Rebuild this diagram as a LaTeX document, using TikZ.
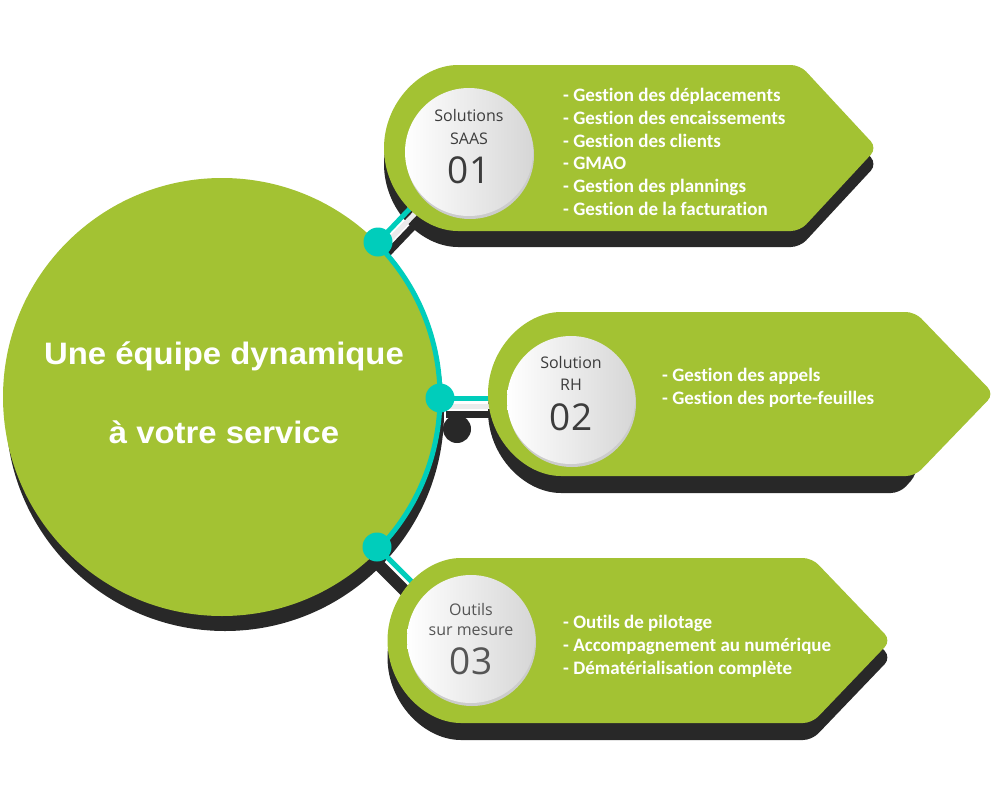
\documentclass[tikz,border=0pt]{standalone}
\usepackage{fontspec}
\usetikzlibrary{calc}
\setmainfont{Liberation Sans}
\newfontfamily\titlefont[FakeStretch=1.06]{Liberation Sans}
\newfontfamily\listfont[Ligatures=NoCommon]{Carlito}
\newfontfamily\labelfont{Open Sans}
\definecolor{leaf}{HTML}{A3C233}
\definecolor{deep}{HTML}{282828}
\definecolor{aqua}{HTML}{00CDBB}
\definecolor{labelgray}{HTML}{3C3C3C}
\definecolor{labelgrayb}{HTML}{555555}
\pgfdeclarelayer{paper}
\pgfdeclarelayer{back}
\pgfdeclarelayer{mid}
\pgfsetlayers{paper,back,mid,main}
\tikzset{
  greenbox/.style={fill=leaf, rounded corners=9pt},
  shadowbox/.style={fill=deep, rounded corners=9pt},
  aquadot/.style={circle, fill=aqua, minimum size=29pt, inner sep=0pt},
  aqualine/.style={draw=aqua, line width=5pt},
  deepline/.style={draw=deep, line width=7pt},
  lightline/.style={draw=black!8, line width=5pt},
  titletext/.style={text=white, font=\titlefont\bfseries\fontsize{31}{31}\selectfont, inner sep=0pt},
  listtext/.style={text=white, font=\listfont\bfseries\fontsize{19}{19}\selectfont, inner sep=0pt, anchor=base west},
  labeltext/.style={text=labelgray, font=\labelfont\fontsize{16}{16}\selectfont, inner sep=0pt, anchor=base},
  numtext/.style={text=labelgray, font=\labelfont\fontsize{37}{37}\selectfont, inner sep=0pt, anchor=base},
  disc/.style={circle, inner sep=0pt, minimum size=128pt, left color=white, right color=black!16},
  discrim/.style={circle, inner sep=0pt, minimum size=128pt, fill=black!20}
}
\begin{document}
\begin{tikzpicture}[x=1pt,y=-1pt]
\useasboundingbox (0,0) rectangle (1000,800);
\begin{pgfonlayer}{paper}
\fill[white] (0,0) rectangle (1000,800);
\end{pgfonlayer}

% ---------- box greens ----------
\fill[greenbox] (600,65) -- (800,65) -- (877,148) -- (800,231) -- (467,231) arc[start angle=270,end angle=90,radius=83pt] -- cycle;
\fill[greenbox] (700,312) -- (915,312) -- (994,394) -- (915,476) -- (570,476) arc[start angle=270,end angle=90,radius=82pt] -- cycle;
\fill[greenbox] (600,558) -- (812,558) -- (891,640.5) -- (812,723) -- (470,723) arc[start angle=270,end angle=90,radius=82.5pt] -- cycle;

% ---------- teal arc and dots ----------
\draw[aqua, line width=5pt] ($(222,397)+(45:218pt)$) arc[start angle=45,end angle=-45,radius=218pt];
\node[aquadot] (d1) at (378,242) {};
\node[aquadot] (d2) at (440,398) {};
\node[aquadot] (d3) at (377,547) {};
\coordinate (b1) at (420,198);
\coordinate (b2) at (500,398);
\coordinate (b3) at (420,590);

% ---------- discs ----------
\node[discrim] (r1) at (470,155) {};
\node[disc] (c1) at (469,152) {};
\node[discrim] (r2) at (572,403) {};
\node[disc] (c2) at (571,400) {};
\node[discrim] (r3) at (472,642) {};
\node[disc] (c3) at (471,639) {};

\node[labeltext] (s1a) at (469,121.7) {Solutions};
\node[labeltext] (s1b) at (469,144) {SAAS};
\node[numtext] (n1) at (469,183) {01};
\node[labeltext] (s2a) at (571,368) {Solution};
\node[labeltext] (s2b) at (571,390) {RH};
\node[numtext] (n2) at (571,430) {02};
\node[labeltext, text=labelgrayb] (s3a) at (471,615) {Outils};
\node[labeltext, text=labelgrayb] (s3b) at (471,635) {sur mesure};
\node[numtext, text=labelgrayb] (n3) at (471,674) {03};

% ---------- lists ----------
\node[listtext] (la1) at (563,101.5) {- Gestion des déplacements};
\node[listtext] (la2) at (563,124.3) {- Gestion des encaissements};
\node[listtext] (la3) at (563,147.1) {- Gestion des clients};
\node[listtext] (la4) at (563,169.9) {- GMAO};
\node[listtext] (la5) at (563,192.7) {- Gestion des plannings};
\node[listtext] (la6) at (563,215.5) {- Gestion de la facturation};

\node[listtext] (lb1) at (662,381) {- Gestion des appels};
\node[listtext] (lb2) at (662,404) {- Gestion des porte-feuilles};

\node[listtext] (lc1) at (563,628.5) {- Outils de pilotage};
\node[listtext] (lc2) at (563,651.3) {- Accompagnement au numérique};
\node[listtext] (lc3) at (563,674) {- Dématérialisation complète};

% ---------- title ----------
\node[titletext, anchor=base] (t1) at (224,364) {Une équipe dynamique};
\node[titletext, anchor=base] (t2) at (224,443) {à votre service};

% ---------- middle layer: hub and connectors ----------
\begin{pgfonlayer}{mid}
\fill[leaf] (222,397) circle[radius=219pt];
\draw[aqualine] (d1.center) -- (b1);
\draw[aqualine] (d2.center) -- (b2);
\draw[aqualine] (d3.center) -- (b3);
\end{pgfonlayer}

% ---------- back layer: shadows ----------
\begin{pgfonlayer}{back}
\fill[deep] (225,412) circle[radius=219pt];
\fill[shadowbox] (600,81) -- (800,81) -- (877,164) -- (800,247) -- (467,247) arc[start angle=270,end angle=90,radius=83pt] -- cycle;
\fill[shadowbox] (700,329) -- (912,329) -- (917,474) -- (900,493) -- (570,493) arc[start angle=270,end angle=90,radius=82pt] -- cycle;
\fill[shadowbox] (600,575) -- (812,575) -- (891,657.5) -- (812,740) -- (470,740) arc[start angle=270,end angle=90,radius=82.5pt] -- cycle;
% connector shadows
\draw[deepline] ($(d1.center)+(9,12)$) -- ($(b1)+(9,12)$);
\draw[lightline] ($(d1.center)+(4,6)$) -- ($(b1)+(4,6)$);
\draw[lightline] ($(d2.center)+(6,8)$) -- ($(b2)+(0,8)$);
\draw[deepline] ($(d2.center)+(6,16)$) -- ($(b2)+(0,16)$);
\fill[deep] (457,429) circle[radius=14pt];
\draw[deep, line width=12pt, line cap=round] ($(d3.center)+(-6,10)$) -- ($(b3)+(-12,4)$);
\end{pgfonlayer}
\end{tikzpicture}
\end{document}
